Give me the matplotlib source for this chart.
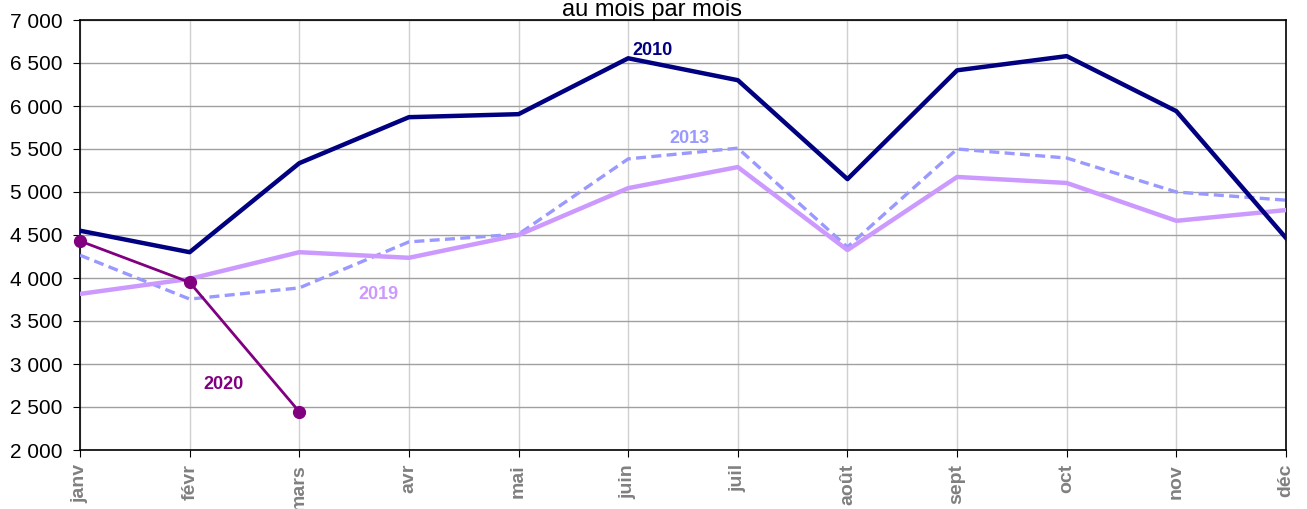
import matplotlib
matplotlib.use("Agg")
import matplotlib.pyplot as plt
from matplotlib.ticker import FuncFormatter

months = ["janv", "févr", "mars", "avr", "mai", "juin",
          "juil", "août", "sept", "oct", "nov", "déc"]
y2010 = [4550, 4300, 5335, 5870, 5905, 6555, 6300, 5150, 6415, 6580, 5940, 4465]
y2013 = [4265, 3755, 3885, 4420, 4510, 5385, 5510, 4360, 5500, 5395, 5000, 4905]
y2019 = [3815, 3990, 4300, 4235, 4500, 5045, 5290, 4325, 5175, 5105, 4665, 4790]
y2020 = [4430, 3950, 2445]

plt.rcParams['font.family'] = ['Liberation Sans', 'DejaVu Sans']

fig = plt.figure(figsize=(13.07, 5.09), dpi=100)
ax = fig.add_axes([80 / 1307, 1 - 450 / 509, 1206 / 1307, 430 / 509])

x = list(range(len(months)))
ax.plot(x, y2010, color='#000080', linewidth=3.2, zorder=4)
ax.plot(x, y2013, color='#9999ff', linewidth=2.4, linestyle=(0, (3, 1.6)), zorder=3)
ax.plot(x, y2019, color='#cc99ff', linewidth=3.2, zorder=3)
ax.plot(x[:len(y2020)], y2020, color='#800080', linewidth=2.0,
        marker='o', markersize=8.5, zorder=5, clip_on=False)

lab = dict(fontsize=13, fontweight='bold', ha='center', va='baseline')
ax.text(5.22, 6590, "2010", color='#000080', **lab)
ax.text(5.56, 5570, "2013", color='#9999ff', **lab)
ax.text(2.72, 3756, "2019", color='#cc99ff', **lab)
ax.text(1.31, 2710, "2020", color='#800080', **lab)

ax.set_xlim(0, 11)
ax.set_ylim(2000, 7000)
ax.set_yticks(range(2000, 7001, 500))
ax.yaxis.set_major_formatter(FuncFormatter(lambda v, p: f"{int(v):,}".replace(",", " ")))
ax.set_xticks(x)
ax.set_xticklabels(months, rotation=90, color='#808080', fontweight='bold', fontsize=14)
ax.tick_params(axis='y', labelsize=15, length=5, direction='out', pad=7.5)
ax.tick_params(axis='x', length=5, direction='out', pad=5)

ax.grid(axis='y', color='#a0a0a0', linewidth=1)
ax.grid(axis='x', color='#d0d0d0', linewidth=1)
ax.set_axisbelow(True)
for s in ax.spines.values():
    s.set_color('black')
    s.set_linewidth(1.2)

fig.text(652 / 1307, 1 - 16 / 509, "au mois par mois", ha='center', va='baseline', fontsize=17)

fig.savefig('out.png', dpi=100)
